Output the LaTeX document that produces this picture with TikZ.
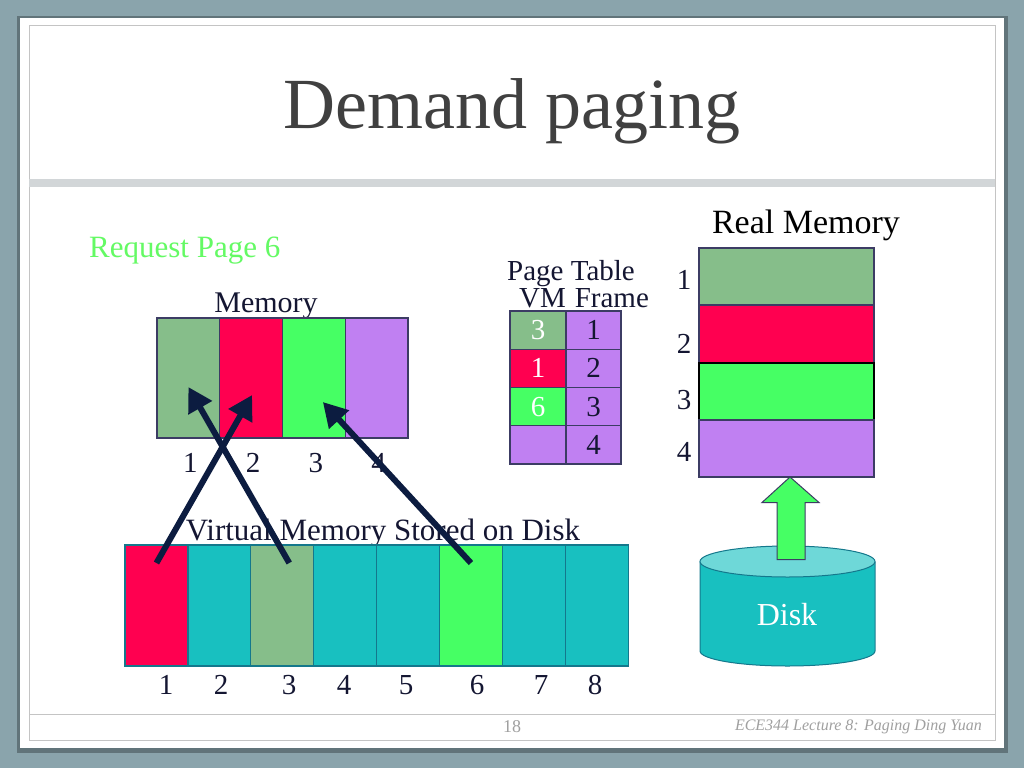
\documentclass[tikz,border=0pt]{standalone}
\usepackage{fontspec}
\setmainfont{Liberation Serif}
\usetikzlibrary{arrows.meta,calc}
\definecolor{bgc}{RGB}{138,164,172}
\definecolor{shadowc}{RGB}{70,84,90}
\definecolor{framec}{RGB}{196,196,196}
\definecolor{barc}{RGB}{210,214,216}
\definecolor{mgreen}{RGB}{134,190,138}
\definecolor{pred}{RGB}{255,0,80}
\definecolor{bgreen}{RGB}{70,255,100}
\definecolor{purp}{RGB}{192,128,242}
\definecolor{tealc}{RGB}{24,192,192}
\definecolor{tealtop}{RGB}{110,216,216}
\definecolor{navy}{RGB}{12,28,64}
\definecolor{ink}{RGB}{20,22,50}
\definecolor{titlec}{RGB}{64,64,64}
\definecolor{reqg}{RGB}{100,250,100}
\definecolor{edgec}{RGB}{60,60,100}
\definecolor{tedge}{RGB}{20,120,140}
\definecolor{footc}{RGB}{160,160,160}
\tikzset{
  cell/.style={draw=edgec, line width=1.2pt, inner sep=0pt, outer sep=0pt, anchor=north west},
  mcell/.style={cell, minimum width=62.75, minimum height=120},
  tcell/.style={cell, minimum width=56, minimum height=38.25, font=\fontsize{29}{29}\selectfont},
  rcell/.style={cell, minimum width=175, minimum height=57},
  dcell/.style={cell, draw=tedge, minimum width=62.9, minimum height=121},
  lbl/.style={text=ink, font=\fontsize{29}{29}\selectfont, inner sep=0pt},
  num/.style={text=ink, font=\fontsize{29}{29}\selectfont, inner sep=0pt},
  navyarrow/.style={draw=navy, line width=6pt, -{Triangle[length=24pt,width=26pt]}},
}
\begin{document}
\begin{tikzpicture}[x=1pt,y=-1pt]
\useasboundingbox (0,0) rectangle (1024,768);
\fill[bgc] (0,0) rectangle (1024,768);
% slide
\fill[shadowc, opacity=.6] (17,16) rectangle (1008,753);
\fill[white] (20,18) rectangle (1004,748);
\draw[framec, line width=1pt] (29,26) rectangle (995,740);
\fill[barc] (29,179) rectangle (995,187);
\draw[framec, line width=1pt] (29,714) -- (995,714);
% title
\node[text=titlec, font=\fontsize{72}{72}\selectfont, anchor=base, inner sep=0pt] (title) at (512,128) {Demand paging};
% request
\node[text=reqg, font=\fontsize{31}{31}\selectfont, anchor=base west, inner sep=0pt] (req) at (89,257) {Request Page 6};
% memory
\node[lbl, font=\fontsize{30}{30}\selectfont, anchor=base] (memlbl) at (266,312) {Memory};
\node[mcell, fill=mgreen] (m1) at (157,318) {};
\node[mcell, fill=pred] (m2) at (m1.north east) {};
\node[mcell, fill=bgreen] (m3) at (m2.north east) {};
\node[mcell, fill=purp] (m4) at (m3.north east) {};
\foreach \i in {1,...,4} {
  \node[num] (mn\i) at ($(m\i.south)+(2,25)$) {\i};
}
% page table
\node[lbl, anchor=base] (ptlbl) at (571,280) {Page Table};
\node[lbl, anchor=base] (ptcols) at (584,307) {VM\hspace{9pt}Frame};
\node[tcell, fill=mgreen, text=white] (p1a) at (510,311) {3};
\node[tcell, fill=purp, text=ink, minimum width=55] (p1b) at (p1a.north east) {1};
\node[tcell, fill=pred, text=white] (p2a) at (p1a.south west) {1};
\node[tcell, fill=purp, text=ink, minimum width=55] (p2b) at (p2a.north east) {2};
\node[tcell, fill=bgreen, text=white] (p3a) at (p2a.south west) {6};
\node[tcell, fill=purp, text=ink, minimum width=55] (p3b) at (p3a.north east) {3};
\node[tcell, fill=purp] (p4a) at (p3a.south west) {};
\node[tcell, fill=purp, text=ink, minimum width=55] (p4b) at (p4a.north east) {4};
% real memory
\node[text=black, font=\fontsize{34}{34}\selectfont, anchor=base, inner sep=0pt] (rmlbl) at (806,233) {Real Memory};
\node[rcell, fill=mgreen] (r1) at (699,248) {};
\node[rcell, fill=pred, minimum height=58] (r2) at (r1.south west) {};
\node[rcell, fill=bgreen, draw=black] (r3) at (r2.south west) {};
\node[rcell, fill=purp] (r4) at (r3.south west) {};
\node[num] (rn1) at (684,280) {1};
\node[num] (rn2) at (684,344) {2};
\node[num] (rn3) at (684,400) {3};
\node[num] (rn4) at (684,452) {4};
% disk cylinder
\coordinate (dtop) at (787.5,561.5);
\coordinate (dbot) at (787.5,651);
\fill[tealc] (700,561.5) rectangle (875,651);
\fill[tealc] (dbot) ellipse [x radius=87.5, y radius=15];
\draw[tedge, line width=1pt] (700,561.5) -- (700,651) arc[start angle=180, end angle=360, x radius=87.5pt, y radius=15pt] -- (875,561.5);
\filldraw[fill=tealtop, draw=tedge, line width=1pt] (dtop) ellipse [x radius=87.5, y radius=15.5];
\node[text=white, font=\fontsize{32}{32}\selectfont, anchor=base, inner sep=0pt] (disk) at (787,625) {Disk};
% green block arrow from disk to real memory
\filldraw[fill=bgreen, draw=edgec, line width=1pt]
  ($(dtop)+(-10.5,-2)$) -- ($(dtop)+(-10.5,-59)$) -- ($(dtop)+(-25.5,-59)$)
  -- (r4.south -| 790,0) -- ($(dtop)+(31.5,-59)$) -- ($(dtop)+(17.5,-59)$)
  -- ($(dtop)+(17.5,-2)$) -- cycle;
% virtual memory on disk
\node[text=ink, font=\fontsize{31}{31}\selectfont, anchor=base, inner sep=0pt] (vmlbl) at (383,540) {Virtual Memory Stored on Disk};
\node[dcell, fill=pred] (d1) at (125,545) {};
\node[dcell, fill=tealc] (d2) at (d1.north east) {};
\node[dcell, fill=mgreen] (d3) at (d2.north east) {};
\node[dcell, fill=tealc] (d4) at (d3.north east) {};
\node[dcell, fill=tealc] (d5) at (d4.north east) {};
\node[dcell, fill=bgreen] (d6) at (d5.north east) {};
\node[dcell, fill=tealc] (d7) at (d6.north east) {};
\node[dcell, fill=tealc] (d8) at (d7.north east) {};
\node[num] (dn1) at (166,685) {1};
\node[num] (dn2) at (221,685) {2};
\node[num] (dn3) at (289,685) {3};
\node[num] (dn4) at (344,685) {4};
\node[num] (dn5) at (406,685) {5};
\node[num] (dn6) at (477,685) {6};
\node[num] (dn7) at (541,685) {7};
\node[num] (dn8) at (595,685) {8};
% arrows from disk pages to memory frames
\coordinate (a1s) at ($(d1.north)+(0,18)$);
\coordinate (a1e) at ($(m2.north)+(1,77)$);
\coordinate (a3s) at ($(d3.north)+(7,18)$);
\coordinate (a3e) at ($(m1.north)+(0,69)$);
\coordinate (a6s) at ($(d6.north)+(0,18)$);
\coordinate (a6e) at ($(m3.north)+(9,84)$);
\draw[navyarrow] (a1s) -- (a1e);
\draw[navyarrow] (a3s) -- (a3e);
\draw[navyarrow] (a6s) -- (a6e);
% footer
\node[text=footc, font=\fontsize{18}{18}\selectfont, inner sep=0pt] (pg) at (512,727) {18};
\node[text=footc, font=\itshape\fontsize{16}{16}\selectfont, anchor=east, inner sep=0pt] (foot) at (982,727) {ECE344 Lecture 8: Paging Ding Yuan};
\end{tikzpicture}
\end{document}
